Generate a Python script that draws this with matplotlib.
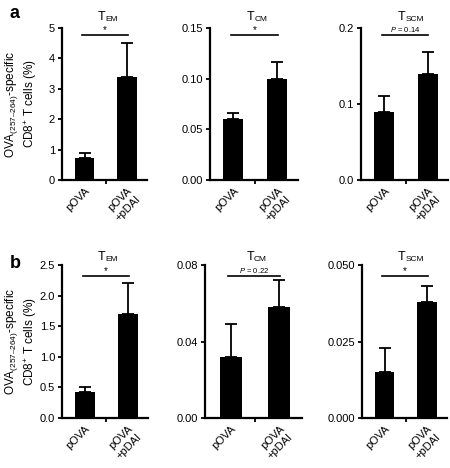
import matplotlib
matplotlib.use("Agg")
import matplotlib.pyplot as plt
import matplotlib.transforms as mtransforms

plt.rcParams["font.family"] = ["Liberation Sans", "DejaVu Sans"]
plt.rcParams["mathtext.fontset"] = "custom"
plt.rcParams["mathtext.rm"] = "Liberation Sans"
plt.rcParams["mathtext.it"] = "Liberation Sans:italic"

# Data
groups = ["pOVA", "pOVA\n+pDAI"]
subsets = ["EM", "CM", "SCM"]

# row a
a_means = [[0.72, 3.4], [0.060, 0.100], [0.090, 0.140]]
a_errs = [[0.16, 1.10], [0.006, 0.016], [0.020, 0.028]]
a_ymax = [5, 0.15, 0.2]
a_ticks = [[0, 1, 2, 3, 4, 5], [0, 0.05, 0.10, 0.15], [0, 0.1, 0.2]]
a_fmt = ["{:.0f}", "{:.2f}", "{:.1f}"]
a_sig = ["*", "*", "P = 0.14"]

# row b
b_means = [[0.43, 1.70], [0.032, 0.058], [0.015, 0.038]]
b_errs = [[0.08, 0.50], [0.017, 0.014], [0.008, 0.005]]
b_ymax = [2.5, 0.08, 0.05]
b_ticks = [[0, 0.5, 1.0, 1.5, 2.0, 2.5], [0, 0.04, 0.08], [0, 0.025, 0.05]]
b_fmt = ["{:.1f}", "{:.2f}", "{:.3f}"]
b_sig = ["*", "P = 0.22", "*"]

W, H = 450, 468
fig = plt.figure(figsize=(W / 100, H / 100), dpi=100)

# axes boxes in pixels: left, right, top, bottom
boxes_a = [(62, 147, 28, 180), (210, 298, 28, 180), (361, 448, 28, 180)]
boxes_b = [(62, 148, 265, 418), (205, 302, 265, 418), (362, 447, 265, 418)]


def add_axes(box):
    l, r, t, b = box
    return fig.add_axes([l / W, 1 - b / H, (r - l) / W, (b - t) / H])


def panel(ax, means, errs, ymax, ticks, fmt, sig, sub, line_y, star_y, title_y):
    x = [0, 1]
    ax.bar(x, means, width=0.46, color="black", zorder=2)
    ax.errorbar(x, means, yerr=[[0, 0], errs], fmt="none", ecolor="black",
                elinewidth=1.3, capsize=4, capthick=1.3, zorder=3)
    ax.set_xlim(-0.53, 1.47)
    ax.set_ylim(0, ymax)
    ax.set_yticks(ticks)
    ax.set_yticklabels([fmt.format(t) for t in ticks])
    ax.set_xticks(x)
    ax.set_xticklabels(groups, rotation=45, ha="right", rotation_mode="anchor")
    ax.set_xticks([0.5], minor=True)
    ax.tick_params(axis="x", which="major", length=0, pad=4, labelsize=8)
    ax.tick_params(axis="x", which="minor", length=3, width=1.3, direction="out")
    ax.tick_params(axis="y", length=3, width=1.3, labelsize=8, pad=2)
    for s in ["top", "right"]:
        ax.spines[s].set_visible(False)
    for s in ["left", "bottom"]:
        ax.spines[s].set_linewidth(1.6)

    trans = mtransforms.blended_transform_factory(ax.transData, ax.transAxes)
    ax.plot([-0.05, 1.02], [line_y, line_y], color="black", lw=1.2,
            transform=trans, clip_on=False)
    if sig == "*":
        ax.text(0.48, star_y, "*", transform=trans, ha="center", va="center",
                fontsize=7)
    else:
        ax.text(0.48, star_y + 0.005, "$P$" + sig[1:], transform=trans,
                ha="center", va="center", fontsize=5.5)
    t = ax.text(0.40, title_y, "T", transform=trans, ha="center",
                va="baseline", fontsize=9)
    ax.annotate(sub, xy=(1, 0), xycoords=t, va="bottom", ha="left",
                fontsize=6)


ylabel = "OVA$_{(257\u2013264)}$-specific\nCD8$^{+}$ T cells (%)"

for i in range(3):
    ax = add_axes(boxes_a[i])
    panel(ax, a_means[i], a_errs[i], a_ymax[i], a_ticks[i], a_fmt[i],
          a_sig[i], subsets[i], 0.954, 0.985, 1.055)
    if i == 0:
        ax.set_ylabel(ylabel, fontsize=8.5)
        ax.yaxis.set_label_coords(-0.27, 0.5)

for i in range(3):
    ax = add_axes(boxes_b[i])
    panel(ax, b_means[i], b_errs[i], b_ymax[i], b_ticks[i], b_fmt[i],
          b_sig[i], subsets[i], 0.928, 0.96, 1.03)
    if i == 0:
        ax.set_ylabel(ylabel, fontsize=8.5)
        ax.yaxis.set_label_coords(-0.27, 0.5)

fig.text(10 / W, 1 - 18 / H, "a", fontsize=13, fontweight="bold")
fig.text(10 / W, 1 - 268 / H, "b", fontsize=13, fontweight="bold")

fig.savefig("out.png", dpi=100)
